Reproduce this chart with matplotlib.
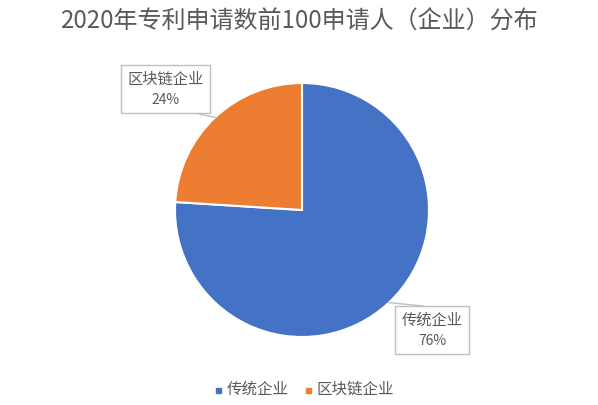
import matplotlib
matplotlib.use("Agg")
import matplotlib.pyplot as plt
from matplotlib.patches import Rectangle
import numpy as np

plt.rcParams['font.family'] = ['Noto Sans CJK SC', 'DejaVu Sans']

title = "2020年专利申请数前100申请人（企业）分布"
categories = ["传统企业", "区块链企业"]
shares = [76, 24]
colors = ["#4472C4", "#ED7D31"]
text_color = "#595959"

W, H = 598, 405
fig = plt.figure(figsize=(W / 100, H / 100), dpi=100)
ax = fig.add_axes([0, 0, 1, 1])

cx, cy, r = 302, H - 210, 127
wedges, _ = ax.pie(shares, colors=colors, startangle=90, counterclock=False,
                   center=(cx, cy), radius=r, frame=True,
                   wedgeprops=dict(edgecolor='white', linewidth=1.5))
ax.set_xlim(0, W)
ax.set_ylim(0, H)
ax.set_aspect('equal')
ax.axis('off')

# callout boxes (x0, y0 top in pixel coords, width, height) and leader end
boxes = [(395, 306, 74, 48, (423, 306)),
         (121, 65, 89, 48, (195, 113))]
for w, cat, val, (bx, by, bw, bh, end) in zip(wedges, categories, shares, boxes):
    ang = np.deg2rad((w.theta1 + w.theta2) / 2)
    px, py = cx + r * np.cos(ang), cy + r * np.sin(ang)
    ax.plot([px, end[0]], [py, H - end[1]], color='#BFBFBF', lw=1, zorder=3)
    ax.add_patch(Rectangle((bx, H - by - bh), bw, bh, facecolor='white',
                           edgecolor='#BFBFBF', lw=1, zorder=4))
    ax.text(bx + bw / 2, H - by - 14, cat, ha='center', va='center',
            fontsize=11, color=text_color, zorder=5)
    ax.text(bx + bw / 2, H - by - 35, f"{val}%", ha='center', va='center',
            fontsize=10, color=text_color, zorder=5)

fig.text(0.5, 1 - 22 / H, title, ha='center', va='center',
         fontsize=17.3, color=text_color)

# legend
leg_x = [218, 308]
for x, cat, c in zip(leg_x, categories, colors):
    ax.add_patch(Rectangle((x - 2.5, H - 390 - 2.5), 5, 5, color=c))
    ax.text(x + 9, H - 389, cat, ha='left', va='center', fontsize=11.2,
            color=text_color)

fig.savefig("out.png", dpi=100, facecolor='white')
